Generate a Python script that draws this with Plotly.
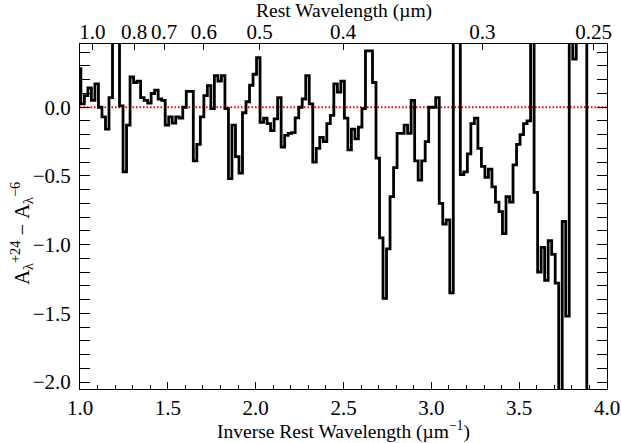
import plotly.graph_objects as go

# ---- data ----
bin_start = 0.995      # centre of the first (clipped) bin, inverse microns
bin_width = 0.02
delta_A = [
    0.28,
    0.024, 0.085, 0.14, 0.05, 0.17, 0.0, -0.07, -0.16, 0.07, 0.9,
    0.9, 0.01, -0.47, -0.13, 0.22, 0.18, 0.19, 0.07, 0.05, 0.03,
    0.10, 0.125, 0.06, 0.05, -0.13, -0.07, -0.115, -0.07, -0.08, 0.0,
    0.115, 0.115, -0.39, -0.27, -0.07, 0.085, 0.157, -0.01, 0.23, 0.19,
    0.23, -0.01, -0.52, -0.13, -0.36, -0.48, -0.04, 0.04, 0.16, 0.24,
    0.36, -0.11, -0.08, -0.12, -0.17, -0.085, 0.07, -0.29, -0.205, -0.19,
    -0.185, -0.077, 0.0, 0.06, 0.23, 0.024, -0.40, -0.30, -0.22, -0.25,
    -0.12, -0.06, 0.17, 0.11, 0.19, -0.08, -0.31, -0.16, -0.23, -0.145,
    -0.01, 0.41, 0.41, 0.18, -0.37, -0.95, -1.39, -1.03, -0.65, -0.44,
    -0.19, -0.19, -0.13, -0.19, 0.05, -0.39, -0.53, -0.39, -0.25, 0.0,
    0.0, 0.07, -0.70, -0.85, -0.82, -1.35, 0.9, 0.9, -0.49, -0.47,
    -0.34, -0.12, -0.08, -0.30, -0.43, -0.51, -0.45, -0.58, -0.69, -0.76,
    -0.92, -0.65, -0.69, -0.42, -0.27, -0.20, -0.12, -0.10, 0.9, -0.62,
    -1.20, -1.02, -1.26, -0.97, -1.07, -1.28, -2.5, -0.83, -1.52, 0.9,
    0.35, 0.9, 0.9, 0.9, -2.5, -2.5, -2.5, -2.5, -2.5, -2.5,
]
inv_wave = [bin_start + bin_width * i for i in range(len(delta_A))]

top_labels = ["1.0", "0.8", "0.7", "0.6", "0.5", "0.4", "0.3", "0.25"]
top_wavelengths = [1.0, 0.8, 0.7, 0.6, 0.5, 0.4, 0.3, 0.25]
top_range = [0.9254, 4.08]

x_range = [1.0, 4.0]
y_range = [-2.05, 0.46]

FONT = "Liberation Serif, Times New Roman, serif"
tick_fs = 21
title_fs = 19.5
tickfont = dict(family=FONT, size=tick_fs, color="black")

fig = go.Figure()
fig.add_hline(y=0, line=dict(color="red", width=1.8, dash="1.6px,1.9px"), layer="below")
fig.add_trace(go.Scatter(
    x=inv_wave, y=delta_A, mode="lines",
    line=dict(color="black", width=2.8, shape="hvh"),
    showlegend=False, hoverinfo="skip"))
fig.add_trace(go.Scatter(x=[None], y=[None], xaxis="x2", showlegend=False))

fig.update_layout(
    width=621, height=443,
    margin=dict(l=80, r=14, t=44, b=54),
    paper_bgcolor="white", plot_bgcolor="white",
    font=dict(family=FONT, size=tick_fs, color="black"),
    xaxis=dict(
        range=x_range, dtick=0.5, tick0=1.0, tickformat=".1f", automargin=False,
        ticks="inside", ticklen=7, tickwidth=1, tickcolor="black", tickfont=tickfont,
        minor=dict(dtick=0.1, ticks="inside", ticklen=4, tickcolor="black"),
        showline=True, linecolor="black", linewidth=1, mirror=True,
        showgrid=False, zeroline=False, ticklabelstandoff=0,
        title=dict(text="Inverse Rest Wavelength (µm<sup>−1</sup>)", standoff=0,
                   font=dict(family=FONT, size=title_fs)),
    ),
    xaxis2=dict(
        overlaying="x", side="top", range=top_range, automargin=False,
        tickvals=[1.0 / w for w in top_wavelengths], ticktext=top_labels,
        ticks="inside", ticklen=6, tickwidth=1, tickcolor="black", tickfont=tickfont,
        showline=False, showgrid=False, zeroline=False, ticklabelstandoff=0,
    ),
    yaxis=dict(
        range=y_range, dtick=0.5, tick0=0, tickformat=".1f", automargin=False,
        ticks="inside", ticklen=10, tickwidth=1, tickcolor="black", tickfont=tickfont,
        minor=dict(dtick=0.1, ticks="inside", ticklen=5, tickcolor="black"),
        showline=True, linecolor="black", linewidth=1, mirror="allticks",
        showgrid=False, zeroline=False, ticklabelstandoff=4,
    ),
    annotations=[
        dict(text="Rest Wavelength (µm)", xref="paper", yref="paper",
             x=0.5, y=1, xanchor="center", yanchor="middle", yshift=33,
             showarrow=False, font=dict(family=FONT, size=title_fs, color="black")),
        dict(text="A<sub>λ</sub><sup>+24</sup> − A<sub>λ</sub><sup>−6</sup>",
             xref="paper", yref="paper", x=-0.11, y=0.45, textangle=-90,
             xanchor="center", yanchor="middle", showarrow=False,
             font=dict(family=FONT, size=20.5, color="black")),
    ],
)

fig.write_html("out.html")
